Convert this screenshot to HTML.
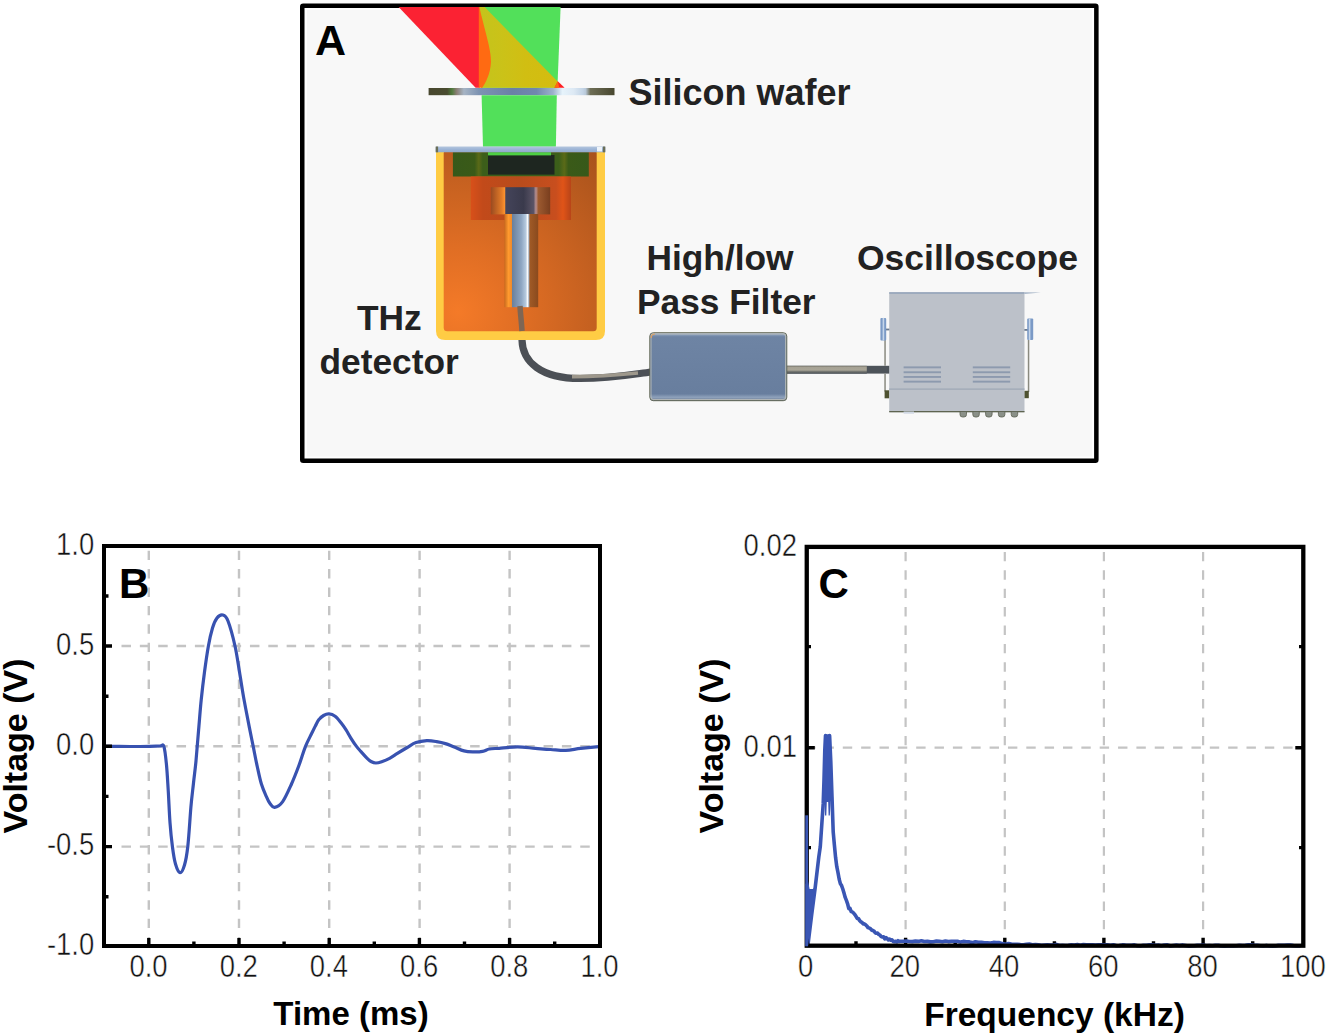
<!DOCTYPE html>
<html><head><meta charset="utf-8">
<style>
html,body{margin:0;padding:0;background:#fff;width:1328px;height:1036px;overflow:hidden}
svg{position:absolute;left:0;top:0;display:block}
text{font-family:"Liberation Sans",sans-serif}
</style></head>
<body>
<svg width="1328" height="1036" viewBox="0 0 1328 1036">
<defs>
  <linearGradient id="wafer" x1="428.6" y1="0" x2="614.5" y2="0" gradientUnits="userSpaceOnUse">
    <stop offset="0" stop-color="#48472f"/>
    <stop offset="0.10" stop-color="#4a4c30"/>
    <stop offset="0.125" stop-color="#4f7a3c"/>
    <stop offset="0.15" stop-color="#8a7f74"/>
    <stop offset="0.19" stop-color="#a6b4c4"/>
    <stop offset="0.27" stop-color="#7d93b2"/>
    <stop offset="0.45" stop-color="#6a80a6"/>
    <stop offset="0.58" stop-color="#7088ae"/>
    <stop offset="0.67" stop-color="#9db2cc"/>
    <stop offset="0.72" stop-color="#e6f3fb"/>
    <stop offset="0.78" stop-color="#dde9f4"/>
    <stop offset="0.83" stop-color="#c3d4e6"/>
    <stop offset="0.845" stop-color="#b8c8d8"/>
    <stop offset="0.87" stop-color="#6e6e56"/>
    <stop offset="1" stop-color="#48472f"/>
  </linearGradient>
  <radialGradient id="housing" cx="458" cy="312" r="210" gradientUnits="userSpaceOnUse">
    <stop offset="0" stop-color="#f47a28"/>
    <stop offset="0.3" stop-color="#e06e24"/>
    <stop offset="0.65" stop-color="#c46020"/>
    <stop offset="1" stop-color="#a8521c"/>
  </radialGradient>
  <linearGradient id="plate" x1="0" y1="146.5" x2="0" y2="152.5" gradientUnits="userSpaceOnUse">
    <stop offset="0" stop-color="#b4c6de"/>
    <stop offset="0.5" stop-color="#9cb4d6"/>
    <stop offset="1" stop-color="#92aacc"/>
  </linearGradient>
  <linearGradient id="greenblk" x1="452.9" y1="0" x2="588.8" y2="0" gradientUnits="userSpaceOnUse">
    <stop offset="0" stop-color="#37591a"/>
    <stop offset="0.16" stop-color="#3a5a18"/>
    <stop offset="0.19" stop-color="#5a6a18"/>
    <stop offset="0.22" stop-color="#3c5e1a"/>
    <stop offset="0.78" stop-color="#3c5e1a"/>
    <stop offset="0.82" stop-color="#5a6a18"/>
    <stop offset="0.85" stop-color="#3a5a18"/>
    <stop offset="1" stop-color="#37591a"/>
  </linearGradient>
  <linearGradient id="redblk" x1="470.8" y1="0" x2="571" y2="0" gradientUnits="userSpaceOnUse">
    <stop offset="0" stop-color="#d8501a"/>
    <stop offset="0.12" stop-color="#c24a1a"/>
    <stop offset="0.5" stop-color="#b84c1c"/>
    <stop offset="0.85" stop-color="#c84e1e"/>
    <stop offset="0.92" stop-color="#e05418"/>
    <stop offset="1" stop-color="#b84418"/>
  </linearGradient>
  <linearGradient id="conn" x1="490.8" y1="0" x2="550.2" y2="0" gradientUnits="userSpaceOnUse">
    <stop offset="0" stop-color="#9a4a20"/>
    <stop offset="0.18" stop-color="#e07a28"/>
    <stop offset="0.24" stop-color="#ff9430"/>
    <stop offset="0.25" stop-color="#44445a"/>
    <stop offset="0.55" stop-color="#3a3a4c"/>
    <stop offset="0.72" stop-color="#5a5466"/>
    <stop offset="0.76" stop-color="#b89090"/>
    <stop offset="0.80" stop-color="#9c5a30"/>
    <stop offset="1" stop-color="#7a3e1e"/>
  </linearGradient>
  <linearGradient id="rod" x1="504.4" y1="0" x2="538.2" y2="0" gradientUnits="userSpaceOnUse">
    <stop offset="0" stop-color="#c86a1e"/>
    <stop offset="0.12" stop-color="#ff9a2e"/>
    <stop offset="0.22" stop-color="#f08a2a"/>
    <stop offset="0.23" stop-color="#6a809c"/>
    <stop offset="0.5" stop-color="#8ea6c2"/>
    <stop offset="0.64" stop-color="#b8cce0"/>
    <stop offset="0.68" stop-color="#ffffff"/>
    <stop offset="0.73" stop-color="#9aa8b8"/>
    <stop offset="0.75" stop-color="#a05a26"/>
    <stop offset="1" stop-color="#8a4a1e"/>
  </linearGradient>
  <linearGradient id="filter" x1="0" y1="332.7" x2="0" y2="400.7" gradientUnits="userSpaceOnUse">
    <stop offset="0" stop-color="#a8bad2"/>
    <stop offset="0.06" stop-color="#6e84a4"/>
    <stop offset="0.9" stop-color="#687e9e"/>
    <stop offset="0.95" stop-color="#8fa2bc"/>
    <stop offset="1" stop-color="#6a7a90"/>
  </linearGradient>
  <linearGradient id="cab2" x1="0" y1="365.8" x2="0" y2="373.6" gradientUnits="userSpaceOnUse">
    <stop offset="0" stop-color="#6e6c64"/>
    <stop offset="0.18" stop-color="#a6a294"/>
    <stop offset="0.55" stop-color="#aaa698"/>
    <stop offset="0.75" stop-color="#70726e"/>
    <stop offset="1" stop-color="#4a5056"/>
  </linearGradient>
  <linearGradient id="yel" x1="480" y1="0" x2="557" y2="0" gradientUnits="userSpaceOnUse">
    <stop offset="0" stop-color="#c4c41c"/>
    <stop offset="0.3" stop-color="#cbc218"/>
    <stop offset="0.6" stop-color="#d1be12"/>
    <stop offset="1" stop-color="#d4bc10"/>
  </linearGradient>
</defs>

<!-- ================= PANEL A ================= -->
<rect x="302.25" y="5.85" width="794.1" height="454.9" rx="1" fill="#ffffff" stroke="#000" stroke-width="4.5"/>
<rect x="307" y="10" width="785" height="446.5" fill="#f8f8f8"/>

<!-- beams -->
<polygon points="398.6,7 479.6,7 479.6,87.8 475.6,87.8" fill="#fb2233"/>
<polygon points="479.2,7 560.6,7 557.4,87.8 481,87.8" fill="#52e05a"/>
<polygon points="479.2,7 484.6,7 557.6,81.6 556.8,87.8 481.2,87.8" fill="url(#yel)"/>
<path d="M478.8 7 L479.4 7 C484 28, 491.5 50, 491 62 C490.4 74, 485.5 83, 482.2 87.8 L478.8 87.8 Z" fill="#ff6a12"/>
<polygon points="557.8,81.2 564.6,87.8 554.4,87.8" fill="#ff1e22"/>
<polygon points="557.8,81.2 559.2,87.8 554.4,87.8" fill="#ff6a12"/>
<rect x="428.6" y="88" width="185.9" height="7.2" fill="url(#wafer)"/>
<polygon points="481.6,95.2 556.8,95.2 555.9,146.8 483,146.8" fill="#52e05a"/>

<!-- detector -->
<path d="M436 148 H605 V331 Q605 340 596 340 H445 Q436 340 436 331 Z" fill="#ffcc44"/>
<rect x="443.7" y="150" width="153" height="181.2" rx="3.5" fill="url(#housing)"/>
<rect x="452.9" y="152.2" width="135.9" height="24.3" fill="url(#greenblk)"/>
<rect x="488" y="155" width="66.5" height="19.6" fill="#1e2620"/>
<rect x="488" y="152.2" width="63" height="3.2" fill="#4ed044"/>
<rect x="435.7" y="146.5" width="169.6" height="5.8" rx="1" fill="url(#plate)"/>
<rect x="435.7" y="146.5" width="2.4" height="5.8" fill="#6a6e58"/>
<rect x="602.9" y="146.5" width="2.4" height="5.8" fill="#6a6e58"/>
<rect x="597" y="147" width="5" height="4.5" fill="#eef4fa"/>
<rect x="470.8" y="176.5" width="100.2" height="43.5" fill="url(#redblk)"/>
<rect x="490.8" y="187.2" width="59.4" height="27.2" fill="url(#conn)"/>
<rect x="504.4" y="214" width="33.8" height="93.2" fill="url(#rod)"/>
<path d="M520 306 C520.5 315, 521.5 322, 522 331" stroke="#7e6654" stroke-width="5.5" fill="none"/>

<!-- cables, filter, oscilloscope -->
<path d="M522 340 C522.5 362, 541 378.5, 580 378.5 C612 378.5, 632 374.5, 651 372" stroke="#4c5056" stroke-width="7.2" fill="none"/>
<path d="M572 376.6 C600 376.6, 620 374.8, 638 373" stroke="#9e988c" stroke-width="3.6" fill="none"/>
<rect x="786.8" y="365.8" width="103" height="7.8" fill="#4e545a"/>
<rect x="786.8" y="365.8" width="80" height="7.8" fill="url(#cab2)"/>
<rect x="649.8" y="332.7" width="137" height="68" rx="3.5" fill="url(#filter)" stroke="#5a5e48" stroke-width="0.9"/>
<rect x="651" y="333.9" width="134.6" height="65.6" rx="2.5" fill="none" stroke="#b9bcb8" stroke-width="1.1" opacity="0.85"/>
<path d="M651.2 338 Q651.2 334 655 334" stroke="#e0a060" stroke-width="1.2" fill="none"/>

<g>
  <rect x="884.3" y="340" width="1.5" height="25.8" fill="#8a8a80"/><rect x="884.3" y="373.6" width="1.5" height="18" fill="#8a8a80"/>
  <rect x="884.6" y="390.3" width="4.8" height="8" fill="#4e5230"/>
  <rect x="886" y="328.6" width="4" height="1.8" fill="#6a7a90"/>
  <rect x="880.4" y="317.9" width="5.8" height="22.6" rx="1" fill="#7b9ac6"/>
  <rect x="882.6" y="317.9" width="1.6" height="22.6" fill="#c6d6ea"/>
  <rect x="1027.8" y="340" width="1.5" height="52" fill="#8a8a80"/>
  <rect x="1024.2" y="390.8" width="4.6" height="7.4" fill="#4e5230"/>
  <rect x="1024" y="329" width="4" height="1.8" fill="#6a7a90"/>
  <rect x="1027.2" y="318.5" width="6" height="21.6" rx="1" fill="#7b9ac6"/>
  <rect x="1028.8" y="318.5" width="1.6" height="21.6" fill="#c6d6ea"/>
  <rect x="889.2" y="292.3" width="135.3" height="119.8" fill="#bcc1c9"/>
  <rect x="889.2" y="292.3" width="135.3" height="1.4" fill="#8fa0b8"/>
  <polygon points="1024.5,292.3 1041,292.6 1024.5,294" fill="#a8b6c8"/>
  <rect x="889.2" y="388.4" width="135.3" height="1.5" fill="#a3acb8"/>
  <g fill="#8d9aae">
    <rect x="903.6" y="366.4" width="37.4" height="1.9"/><rect x="903.6" y="371.3" width="37.4" height="1.9"/>
    <rect x="903.6" y="376" width="37.4" height="1.9"/><rect x="903.6" y="380.7" width="37.4" height="1.9"/>
    <rect x="972.8" y="366.4" width="37.4" height="1.9"/><rect x="972.8" y="371.3" width="37.4" height="1.9"/>
    <rect x="972.8" y="376" width="37.4" height="1.9"/><rect x="972.8" y="380.7" width="37.4" height="1.9"/>
  </g>
  <rect x="889.2" y="411" width="135.3" height="1.3" fill="#5e6450"/>
  <rect x="903.6" y="411.5" width="10.4" height="2.2" fill="#d0d8e4"/>
  <g fill="#8a9088" stroke="#5a6050" stroke-width="0.8">
    <path d="M960 411.5h6.5v3a2.5 2.5 0 0 1-2.5 2.5h-1.5a2.5 2.5 0 0 1-2.5-2.5z"/>
    <path d="M972.8 411.5h6.5v3a2.5 2.5 0 0 1-2.5 2.5h-1.5a2.5 2.5 0 0 1-2.5-2.5z"/>
    <path d="M985.6 411.5h6.5v3a2.5 2.5 0 0 1-2.5 2.5h-1.5a2.5 2.5 0 0 1-2.5-2.5z"/>
    <path d="M998.4 411.5h6.5v3a2.5 2.5 0 0 1-2.5 2.5h-1.5a2.5 2.5 0 0 1-2.5-2.5z"/>
    <path d="M1011.2 411.5h6.5v3a2.5 2.5 0 0 1-2.5 2.5h-1.5a2.5 2.5 0 0 1-2.5-2.5z"/>
  </g>
</g>

<!-- labels A -->
<g font-weight="bold" fill="#222">
  <text x="628.5" y="104.8" font-size="36">Silicon wafer</text>
  <text x="646.5" y="269.8" font-size="35.3">High/low</text>
  <text x="637" y="313.5" font-size="35.3">Pass Filter</text>
  <text x="857" y="269.8" font-size="35.5">Oscilloscope</text>
  <text x="357" y="330.4" font-size="35.3">THz</text>
  <text x="319.5" y="374.3" font-size="35.3">detector</text>
</g>
<text x="315" y="55.4" font-size="43" font-weight="bold" fill="#000">A</text>

<!-- ================= CHART B ================= -->
<g stroke="#c4c4c4" stroke-width="2.4" fill="none">
  <path stroke-dasharray="9.4 9" d="M148.8 550.7V944 M239 550.7V944 M329.2 550.7V944 M419.6 550.7V944 M509.6 550.7V944"/>
  <path stroke-dasharray="9.5 8.85" d="M121.5 646H598 M121.5 746.3H598 M121.5 846.6H598"/>
</g>
<path d="M104.0 746.3 C108.3 746.3 122.3 746.5 130.0 746.5 C137.7 746.5 145.0 746.4 150.0 746.3 C155.0 746.2 157.7 746.0 160.0 746.0 C162.3 746.0 162.8 743.3 163.9 746.5 C165.0 749.7 165.8 757.8 166.5 765.0 C167.2 772.2 167.6 780.4 168.2 790.0 C168.8 799.6 169.3 813.2 170.0 822.6 C170.7 832.0 171.5 839.6 172.4 846.5 C173.3 853.4 174.2 859.6 175.5 864.0 C176.8 868.4 178.6 872.5 180.1 872.7 C181.6 872.9 183.2 869.4 184.5 865.0 C185.8 860.6 186.7 856.1 187.8 846.5 C188.9 836.9 190.0 817.8 190.9 807.2 C191.8 796.6 192.7 790.7 193.5 783.0 C194.3 775.3 195.2 769.7 196.0 760.9 C196.8 752.1 197.7 740.1 198.6 730.0 C199.5 719.9 200.2 709.7 201.2 700.0 C202.2 690.3 203.3 681.0 204.5 672.0 C205.7 663.0 207.1 653.3 208.4 646.0 C209.7 638.7 211.1 632.7 212.5 628.0 C213.9 623.3 215.3 620.2 217.0 618.0 C218.7 615.8 221.1 614.5 222.9 615.0 C224.7 615.5 226.0 615.8 228.0 621.0 C230.0 626.2 233.1 637.5 235.0 646.0 C236.9 654.5 238.0 663.0 239.5 672.0 C241.0 681.0 242.4 690.7 244.1 700.0 C245.8 709.3 247.9 719.9 249.4 727.6 C250.9 735.3 251.9 740.1 253.2 746.4 C254.5 752.7 255.6 759.0 257.0 765.3 C258.4 771.6 259.8 778.8 261.4 784.0 C263.0 789.2 265.0 793.4 266.4 796.6 C267.8 799.9 268.6 801.7 270.0 803.5 C271.4 805.3 272.4 807.6 274.5 807.3 C276.6 807.0 279.9 805.5 282.7 801.6 C285.5 797.7 288.8 790.0 291.5 784.0 C294.2 778.0 296.7 771.5 299.0 765.3 C301.3 759.1 303.3 751.9 305.4 746.6 C307.5 741.4 309.8 737.3 311.5 733.8 C313.2 730.3 314.3 728.1 315.5 725.7 C316.7 723.3 317.5 721.3 318.9 719.6 C320.2 717.9 321.9 716.5 323.6 715.5 C325.3 714.5 327.1 713.8 329.0 713.9 C330.9 714.0 333.1 714.7 335.1 716.2 C337.1 717.7 339.4 720.8 341.2 723.0 C343.0 725.2 344.3 727.2 345.9 729.7 C347.5 732.2 349.0 735.1 350.7 737.8 C352.4 740.5 354.4 743.6 356.1 745.9 C357.8 748.2 359.0 749.4 360.8 751.4 C362.6 753.4 365.2 756.4 366.9 758.1 C368.6 759.8 369.5 760.7 371.0 761.5 C372.5 762.3 374.1 763.0 375.9 763.0 C377.7 763.0 379.4 762.5 381.7 761.7 C384.0 760.9 387.0 759.7 389.6 758.3 C392.2 756.9 394.5 755.2 397.4 753.4 C400.3 751.6 404.1 749.3 407.2 747.5 C410.3 745.7 412.7 743.7 416.0 742.6 C419.3 741.5 423.4 740.9 426.8 740.7 C430.2 740.5 433.5 741.1 436.6 741.6 C439.7 742.1 442.5 742.7 445.4 743.6 C448.3 744.5 451.1 745.8 454.2 747.0 C457.3 748.2 460.9 750.1 464.0 750.9 C467.1 751.7 469.7 751.8 472.8 751.9 C475.9 752.0 479.8 751.9 482.6 751.4 C485.4 750.9 486.6 749.5 489.4 749.0 C492.2 748.5 494.5 748.6 499.2 748.3 C503.9 747.9 511.4 746.9 517.5 746.9 C523.5 746.9 530.0 748.0 535.5 748.4 C541.0 748.8 545.6 749.2 550.6 749.5 C555.6 749.8 560.7 750.6 565.7 750.4 C570.7 750.2 575.2 749.0 580.7 748.4 C586.2 747.8 595.8 746.9 598.8 746.6" stroke="#3852b0" stroke-width="3.2" fill="none" stroke-linejoin="round"/>
<g stroke="#000" stroke-width="3.4" fill="none">
  <path d="M104 646H112 M104 746.3H112 M104 846.6H112"/>
  <path d="M104 596H108.5 M104 696.2H108.5 M104 796.4H108.5 M104 896.8H108.5"/>
  <path d="M148.8 946V938 M239 946V938 M329.2 946V938 M419.4 946V938 M509.6 946V938"/>
  <path d="M193.9 946V941.5 M284.1 946V941.5 M374.3 946V941.5 M464.5 946V941.5 M554.7 946V941.5"/>
</g>
<rect x="104" y="546" width="496" height="400" fill="none" stroke="#000" stroke-width="4"/>
<g font-size="31" fill="#111" stroke="#fff" stroke-width="0.45" text-anchor="end">
  <text transform="translate(94.2,554.8) scale(0.885,1)">1.0</text>
  <text transform="translate(94.2,655.0) scale(0.885,1)">0.5</text>
  <text transform="translate(94.2,754.5) scale(0.885,1)">0.0</text>
  <text transform="translate(94.2,854.5) scale(0.885,1)">-0.5</text>
  <text transform="translate(94.2,954.8) scale(0.885,1)">-1.0</text>
</g>
<g font-size="31" fill="#111" stroke="#fff" stroke-width="0.45" text-anchor="middle">
  <text transform="translate(148.5,976.8) scale(0.885,1)">0.0</text>
  <text transform="translate(238.7,976.8) scale(0.885,1)">0.2</text>
  <text transform="translate(328.9,976.8) scale(0.885,1)">0.4</text>
  <text transform="translate(419.1,976.8) scale(0.885,1)">0.6</text>
  <text transform="translate(509.3,976.8) scale(0.885,1)">0.8</text>
  <text transform="translate(599.5,976.8) scale(0.885,1)">1.0</text>
</g>
<text x="351" y="1025" font-size="33" font-weight="bold" text-anchor="middle" fill="#000">Time (ms)</text>
<text transform="translate(27.4,746) rotate(-90)" font-size="34" font-weight="bold" text-anchor="middle" fill="#000">Voltage (V)</text>
<text x="119" y="597.7" font-size="42" font-weight="bold" fill="#000">B</text>

<!-- ================= CHART C ================= -->
<g stroke="#c4c4c4" stroke-width="2.2" fill="none">
  <path stroke-dasharray="9.4 9" d="M905.6 551.9V943 M1004.8 551.9V943 M1103.9 551.9V943 M1203.1 551.9V943"/>
  <path stroke-dasharray="9.4 8.95" d="M806.1 747.7H1295"/>
</g>
<g stroke="#000" stroke-width="3.4" fill="none">
  <path d="M806.8 747.7H814.8 M806.8 646.6H811 M806.8 847.6H811"/>
  <path d="M1303.3 747.7H1295.3 M1303.3 646.6H1299 M1303.3 847.6H1299"/>
  <path d="M905.6 945.7V937.7 M1004.8 945.7V937.7 M1103.9 945.7V937.7 M1203.1 945.7V937.7"/>
  <path d="M856 945.7V941.3 M955.2 945.7V941.3 M1054.4 945.7V941.3 M1153.5 945.7V941.3 M1252.7 945.7V941.3"/>
</g>
<g stroke="#3a56b4" stroke-width="3.6" fill="none" stroke-linejoin="round" stroke-linecap="round">
  <path d="M808.0 944.6 L811.6 915.2 L815.2 887.4 L818.8 857.0 L820.3 846.5 L822.0 821.4 L823.2 803.9 L824.0 780.0 L824.8 750.0 L825.5 735.5"/>
  <path d="M829.6 735.5 L830.8 762.0 L832.0 796.7 L833.2 831.8 L834.4 845.1 L835.6 857.6 L836.8 866.7 L838.0 872.7 L839.2 879.3 L840.4 883.8 L841.6 885.6 L842.8 889.0 L844.0 893.1 L845.2 897.4 L846.4 900.4 L847.6 903.8 L848.8 908.6 L850.0 908.4 L851.2 911.6 L852.4 911.9 L853.6 913.1 L854.8 914.5 L856.0 916.3 L857.2 918.5 L858.4 918.5 L859.6 920.5 L860.8 921.8 L862.0 922.4 L863.2 924.0 L864.4 923.9 L865.6 924.7 L866.8 925.9 L868.0 927.6 L869.2 928.0 L870.4 928.6 L871.6 930.0 L872.8 930.5 L874.0 931.1 L875.2 932.8 L876.4 933.3 L877.6 933.1 L878.8 934.5 L880.0 935.1 L881.2 936.6 L882.4 937.0 L883.6 936.8 L884.8 938.9 L886.0 937.6 L887.2 938.7 L888.4 939.9 L889.6 939.1 L890.8 940.3 L892.0 939.9 L893.2 941.5 L894.4 941.7 L895.6 941.3 L896.8 941.9 L898.0 940.7 L899.2 941.5 L900.4 941.3 L903.4 941.2 L906.4 941.0 L909.4 941.5 L912.4 941.6 L915.4 941.1 L918.4 941.4 L921.4 940.7 L924.4 941.5 L927.4 941.4 L930.4 941.9 L933.4 941.7 L936.4 941.1 L939.4 941.3 L942.4 941.7 L945.4 941.0 L948.4 941.6 L951.4 941.3 L954.4 941.2 L957.4 941.2 L960.4 942.1 L963.4 941.4 L966.4 941.7 L969.4 941.9 L972.4 942.6 L975.4 941.7 L978.4 942.2 L981.4 942.4 L984.4 942.9 L987.4 942.9 L990.4 943.0 L993.4 942.4 L996.4 942.6 L999.4 942.6 L1002.4 943.6 L1005.4 944.2 L1008.4 943.6 L1011.4 944.1 L1014.4 944.3 L1017.4 944.3 L1020.4 944.6 L1023.4 944.8 L1026.4 944.4 L1029.4 944.1 L1032.4 944.7 L1035.4 944.6 L1038.4 944.9 L1041.4 945.4 L1044.4 945.1 L1047.4 944.9 L1050.4 945.0 L1053.4 945.1 L1056.4 944.4 L1059.4 945.5 L1062.4 945.3 L1065.4 945.5 L1068.4 945.4 L1071.4 944.9 L1074.4 945.0 L1077.4 944.6 L1080.4 945.3 L1083.4 944.6 L1086.4 944.7 L1089.4 944.9 L1092.4 944.8 L1095.4 945.1 L1098.4 944.8 L1101.4 944.7 L1104.4 944.9 L1107.4 944.8 L1110.4 945.2 L1113.4 944.8 L1116.4 945.8 L1119.4 945.5 L1122.4 944.9 L1125.4 945.1 L1128.4 945.2 L1131.4 945.2 L1134.4 944.9 L1137.4 945.8 L1140.4 946.0 L1143.4 945.3 L1146.4 945.4 L1149.4 944.9 L1152.4 944.9 L1155.4 945.2 L1158.4 945.1 L1161.4 945.8 L1164.4 945.0 L1167.4 944.9 L1170.4 946.0 L1173.4 945.5 L1176.4 945.0 L1179.4 945.5 L1182.4 944.9 L1185.4 945.5 L1188.4 946.1 L1191.4 945.9 L1194.4 945.7 L1197.4 945.2 L1200.4 945.3 L1203.4 945.1 L1206.4 945.8 L1209.4 945.5 L1212.4 945.8 L1215.4 945.3 L1218.4 945.2 L1221.4 945.9 L1224.4 946.1 L1227.4 945.9 L1230.4 945.9 L1233.4 945.9 L1236.4 945.8 L1239.4 945.2 L1242.4 945.5 L1245.4 945.3 L1248.4 944.9 L1251.4 944.9 L1254.4 945.2 L1257.4 945.2 L1260.4 945.7 L1263.4 946.0 L1266.4 945.4 L1269.4 946.0 L1272.4 946.1 L1275.4 946.0 L1278.4 945.3 L1281.4 945.2 L1284.4 945.2 L1287.4 945.1 L1290.4 945.1 L1293.4 945.6 L1296.4 946.0 L1299.4 945.9"/>
</g>
<rect x="806.75" y="546.9" width="496.55" height="398.8" fill="none" stroke="#000" stroke-width="4.3"/>
<g fill="#3a56b4">
  <rect x="805.3" y="815.3" width="2.8" height="131"/>
  <polygon points="805.5,884 808,881 809.6,889 813,889 815,887 811.6,916 808.2,945 805.5,946"/>
  <polygon points="823.4,803 825,734.2 830,734.2 832,803 830.8,801 829.8,815.5 828.6,815.5 828.2,802 826.8,802 826.3,815.5 825,815.5 824.6,801"/>
</g>

<g font-size="31" fill="#111" stroke="#fff" stroke-width="0.45" text-anchor="end">
  <text transform="translate(797.0,556.0) scale(0.885,1)">0.02</text>
  <text transform="translate(797.0,756.5) scale(0.885,1)">0.01</text>
</g>
<g font-size="31" fill="#111" stroke="#fff" stroke-width="0.45" text-anchor="middle">
  <text transform="translate(805.6,976.5) scale(0.885,1)">0</text>
  <text transform="translate(904.7,976.5) scale(0.885,1)">20</text>
  <text transform="translate(1004.0,976.5) scale(0.885,1)">40</text>
  <text transform="translate(1103.3,976.5) scale(0.885,1)">60</text>
  <text transform="translate(1202.6,976.5) scale(0.885,1)">80</text>
  <text transform="translate(1302.9,976.5) scale(0.885,1)">100</text>
</g>
<text x="1054.5" y="1025.7" font-size="33.5" font-weight="bold" text-anchor="middle" fill="#000">Frequency (kHz)</text>
<text transform="translate(722.9,746) rotate(-90)" font-size="34" font-weight="bold" text-anchor="middle" fill="#000">Voltage (V)</text>
<text x="818.5" y="598.3" font-size="42" font-weight="bold" fill="#000">C</text>
</svg>
</body></html>
